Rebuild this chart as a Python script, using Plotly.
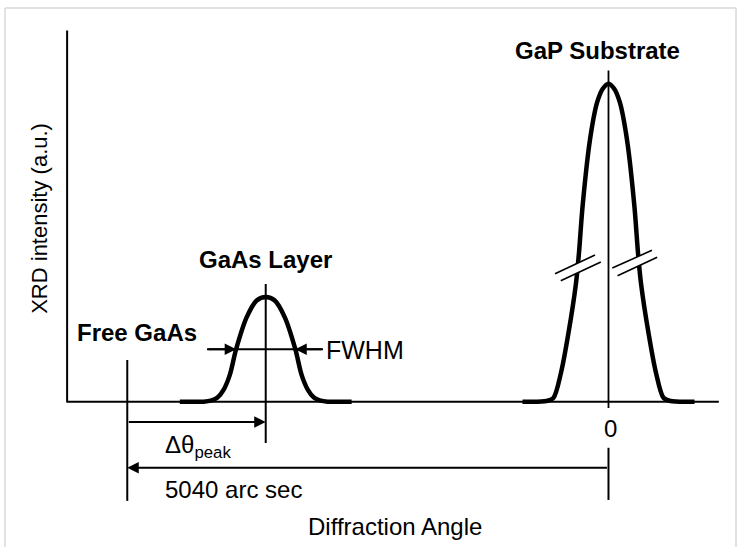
import plotly.graph_objects as go

# ---------------- data ----------------
# x: diffraction angle in arc sec, relative to the GaP substrate peak (0)
# y: XRD intensity (a.u.), GaP peak drawn as 100 (axis is broken)
gap_x = [-901, -649, -576, -498, -419, -340, -309, -272, -194, -120, -60, 0,
         60, 120, 194, 272, 309, 340, 419, 498, 576, 649, 901]
gap_y = [0, 0.2, 1.2, 9.0, 21.6, 37.3, 46.8, 61.2, 82.3, 94.0, 98.4, 100,
         98.4, 94.0, 82.3, 61.2, 46.8, 37.3, 21.6, 9.0, 1.2, 0.2, 0]

gaas_x = [-4490, -4240, -4165, -4095, -4030, -3965, -3900, -3790, -3685, -3590,
          -3495, -3390, -3280, -3215, -3150, -3085, -3015, -2940, -2690]
gaas_y = [0, 0, 0.3, 1.3, 3.8, 8.5, 16.5, 26.5, 31.8, 32.9,
          31.8, 26.5, 16.5, 8.5, 3.8, 1.3, 0.3, 0, 0]

free_gaas_x = -5040      # unstrained (free) GaAs position
gaas_peak_x = -3590      # GaAs layer peak
gap_peak_x = 0           # GaP substrate peak
gaas_peak_y = 32.9

peak_labels = ["Free GaAs", "GaAs Layer", "GaP Substrate"]
x_tick_vals = [0]
x_tick_text = ["0"]
fwhm_label = "FWHM"
delta_label = "\u0394\u03b8<sub>peak</sub>"
span_label = "5040 arc sec"
x_title = "Diffraction Angle"
y_title = "XRD intensity (a.u.)"

# ---------------- figure ----------------
FONT = "Liberation Sans, Arial, Helvetica, sans-serif"
BLACK = "#000000"
fig = go.Figure()

fig.add_trace(go.Scatter(x=gap_x, y=gap_y, mode="lines",
                         line=dict(color=BLACK, width=4.5, shape="spline", smoothing=0.8),
                         hoverinfo="skip", showlegend=False))
fig.add_trace(go.Scatter(x=gaas_x, y=gaas_y, mode="lines",
                         line=dict(color=BLACK, width=4.5, shape="spline", smoothing=0.9),
                         hoverinfo="skip", showlegend=False))

x_lo, x_hi = -6373, 1346
y_lo, y_hi = -45.7, 126.3
ax_x0 = -5670          # position of the drawn y axis
ax_x1 = 1156           # end of drawn x axis
ax_ytop = 116.7

shapes = []
def seg(x0, y0, x1, y1, w=2.0, color=BLACK):
    shapes.append(dict(type="line", xref="x", yref="y", x0=x0, y0=y0, x1=x1, y1=y1,
                       line=dict(color=color, width=w), layer="above"))

# axes
seg(ax_x0, -0.3, ax_x0, ax_ytop, 2.0)
seg(ax_x0, 0, ax_x1, 0, 2.0)

# vertical marker lines
seg(free_gaas_x, 13.1, free_gaas_x, -31.2, 2.0)
seg(gaas_peak_x, 37.0, gaas_peak_x, -13.0, 2.0)
seg(gap_peak_x, 104.1, gap_peak_x, -2.0, 1.8)
seg(gap_peak_x, -14.5, gap_peak_x, -30.9, 2.0)

# FWHM line
half = gaas_peak_y / 2
seg(-4205, half, -2990, half, 2.0)

# break marks on GaP peak
def brk(p1, p2, p3, p4):
    shapes.append(dict(type="path", xref="x", yref="y",
                       path=f"M{p1[0]},{p1[1]} L{p2[0]},{p2[1]} L{p4[0]},{p4[1]} L{p3[0]},{p3[1]} Z",
                       fillcolor="white", line=dict(width=0), layer="above"))
    seg(p1[0], p1[1], p2[0], p2[1], 1.6)
    seg(p3[0], p3[1], p4[0], p4[1], 1.6)

brk((-560, 40.2), (-141, 46.1), (-500, 38.0), (-80, 43.9))
brk((40, 42.0), (455, 47.6), (95, 39.6), (510, 45.4))

# light frame around the picture
frame = dict(color="#d8d8d8", width=1.5)
shapes.append(dict(type="line", xref="paper", yref="paper", x0=5/737, y0=1-8/547, x1=736/737, y1=1-8/547, line=frame))
shapes.append(dict(type="line", xref="paper", yref="paper", x0=5/737, y0=1-8/547, x1=5/737, y1=0, line=frame))
shapes.append(dict(type="line", xref="paper", yref="paper", x0=736/737, y0=1-8/547, x1=736/737, y1=0, line=frame))

ann = []
def arrow(xh, yh, xt, yt):
    ann.append(dict(x=xh, y=yh, ax=xt, ay=yt, xref="x", yref="y", axref="x", ayref="y",
                    text="", showarrow=True, arrowhead=2, arrowsize=1.15, arrowwidth=2,
                    arrowcolor=BLACK, standoff=0, startstandoff=0))

arrow(-3899, half, -4205, half)
arrow(-3281, half, -2990, half)
arrow(gaas_peak_x, -6.4, free_gaas_x, -6.4)
arrow(free_gaas_x, -20.8, gap_peak_x, -20.8)

def label(text, x, y, xanchor="center", bold=False, size=24, angle=0):
    ann.append(dict(x=x, y=y, xref="x", yref="y", text=f"<b>{text}</b>" if bold else text,
                    showarrow=False, xanchor=xanchor, yanchor="middle", textangle=angle,
                    font=dict(family=FONT, size=size, color=BLACK)))

label(peak_labels[2], -110, 110.4, bold=True)
label(peak_labels[1], gaas_peak_x, 44.6, bold=True)
label(peak_labels[0], -5590, 21.8, xanchor="left", bold=True)
label(fwhm_label, -2975, 16.3, xanchor="left", size=25)
label(delta_label, -4670, -14.0, xanchor="left")
label(span_label, -4670, -27.5, xanchor="left")
for tv, tt in zip(x_tick_vals, x_tick_text):
    label(tt, tv + 26, -8.3)
label(x_title, -2236, -39.1)
label(y_title, -5954, 57.5, size=22, angle=-90)

fig.update_layout(
    width=737, height=547,
    margin=dict(l=0, r=0, t=0, b=0),
    paper_bgcolor="white", plot_bgcolor="white",
    xaxis=dict(range=[x_lo, x_hi], visible=False, fixedrange=True),
    yaxis=dict(range=[y_lo, y_hi], visible=False, fixedrange=True),
    shapes=shapes, annotations=ann, showlegend=False,
)

fig.write_html("out.html")
